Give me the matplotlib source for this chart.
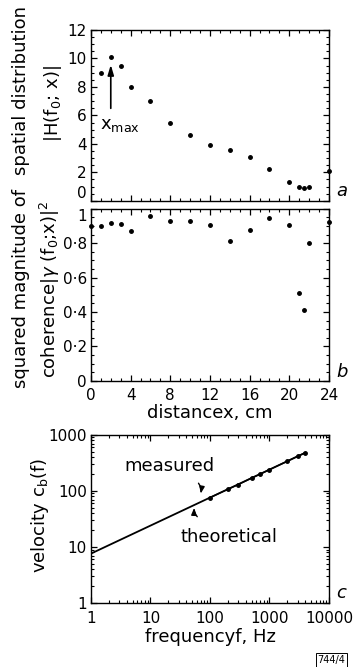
import numpy as np
import matplotlib
matplotlib.use("Agg")
import matplotlib.pyplot as plt
from matplotlib.ticker import MultipleLocator, FixedLocator, FuncFormatter, LogLocator, NullFormatter

# panel a: spatial distribution |H(f0;x)|
dist_a = [1, 2, 3, 4, 6, 8, 10, 12, 14, 16, 18, 20, 21, 21.5, 22, 24]
mag_a = [9.0, 10.1, 9.5, 8.0, 7.0, 5.5, 4.6, 3.9, 3.6, 3.05, 2.25, 1.3, 0.98, 0.9, 1.0, 2.1]

# panel b: squared magnitude of coherence
dist_b = [0, 1, 2, 3, 4, 6, 8, 10, 12, 14, 16, 18, 20, 21, 21.5, 22, 24]
coh_b = [0.90, 0.90, 0.92, 0.91, 0.87, 0.96, 0.93, 0.93, 0.905, 0.81, 0.875, 0.945,
         0.905, 0.51, 0.41, 0.80, 0.925]

# panel c: bending wave velocity
freq_meas = [100, 200, 300, 500, 700, 1000, 2000, 3000, 4000]
vel_meas = [76, 107, 130, 170, 200, 240, 340, 420, 480]
freq_theory = [1, 4000]
vel_theory = [7.6, 480]

TICK = 11
LABEL = 13
plt.rcParams["font.family"] = ["DejaVu Sans"]
plt.rcParams["mathtext.fontset"] = "dejavusans"

fig = plt.figure(figsize=(3.58, 6.67), dpi=100)
ax_a = fig.add_axes([0.254, 0.699, 0.665, 0.256])
ax_b = fig.add_axes([0.254, 0.429, 0.665, 0.258])
ax_c = fig.add_axes([0.254, 0.096, 0.665, 0.252])


def style(ax):
    for s in ax.spines.values():
        s.set_linewidth(1.0)
    ax.tick_params(which="both", direction="in", top=True, right=True, labelsize=TICK, pad=3)
    ax.tick_params(which="major", length=4, width=0.9)
    ax.tick_params(which="minor", length=2, width=0.8)


dot = lambda v, pos: ("%g" % v).replace(".", "\u00b7")

# --- a ---
ax_a.plot(dist_a, mag_a, "o", color="black", markersize=2.5, clip_on=False)
ax_a.set_xlim(0, 24)
ax_a.set_ylim(0, 12)
ax_a.xaxis.set_major_locator(MultipleLocator(4))
ax_a.xaxis.set_minor_locator(MultipleLocator(1))
ax_a.yaxis.set_major_locator(MultipleLocator(2))
ax_a.yaxis.set_minor_locator(MultipleLocator(0.5))
ax_a.set_xticklabels([])
style(ax_a)
ax_a.annotate("", xy=(2, 9.75), xytext=(2, 6.3),
              arrowprops=dict(arrowstyle="-|>,head_length=0.6,head_width=0.18", color="black", lw=1.2))
ax_a.text(0.9, 5.3, r"x$_{\mathrm{max}}$", fontsize=LABEL, va="center", ha="left")
ax_a.text(1.03, 0.06, "a", transform=ax_a.transAxes, fontsize=LABEL, style="italic", va="center")

# --- b ---
ax_b.plot(dist_b, coh_b, "o", color="black", markersize=2.5, clip_on=False)
ax_b.set_xlim(0, 24)
ax_b.set_ylim(0, 1)
ax_b.xaxis.set_major_locator(MultipleLocator(4))
ax_b.xaxis.set_minor_locator(MultipleLocator(1))
ax_b.yaxis.set_major_locator(MultipleLocator(0.2))
ax_b.yaxis.set_minor_locator(MultipleLocator(0.05))
ax_b.yaxis.set_major_formatter(FuncFormatter(dot))
style(ax_b)
ax_b.tick_params(axis="x", pad=5)
ax_b.set_xlabel("distancex, cm", fontsize=LABEL, labelpad=1)
ax_b.text(1.03, 0.05, "b", transform=ax_b.transAxes, fontsize=LABEL, style="italic", va="center")

# keep the "0" of a and the "1" of b apart, as in the original
fig.canvas.draw()
for t in ax_a.yaxis.get_major_ticks():
    if abs(t.get_loc()) < 1e-9:
        t.label1.set_va("bottom")
for t in ax_b.yaxis.get_major_ticks():
    if abs(t.get_loc() - 1) < 1e-9:
        t.label1.set_va("top")

# --- c ---
ax_c.loglog(freq_theory, vel_theory, "-", color="black", lw=1.3)
ax_c.plot(freq_meas, vel_meas, "-o", color="black", lw=1.0, markersize=2.5)
ax_c.set_xlim(1, 10000)
ax_c.set_ylim(1, 1000)
ax_c.xaxis.set_major_locator(FixedLocator([1, 10, 100, 1000, 10000]))
ax_c.yaxis.set_major_locator(FixedLocator([1, 10, 100, 1000]))
ax_c.xaxis.set_minor_locator(LogLocator(base=10, subs=np.arange(2, 10)))
ax_c.yaxis.set_minor_locator(LogLocator(base=10, subs=np.arange(2, 10)))
ax_c.xaxis.set_minor_formatter(NullFormatter())
ax_c.yaxis.set_minor_formatter(NullFormatter())
ax_c.xaxis.set_major_formatter(FuncFormatter(lambda v, p: "%d" % v))
ax_c.yaxis.set_major_formatter(FuncFormatter(lambda v, p: "%d" % v))
style(ax_c)
ax_c.tick_params(axis="x", pad=6)
ax_c.set_xlabel("frequencyf, Hz", fontsize=LABEL, labelpad=1)
ax_c.text(21, 280, "measured", fontsize=LABEL, ha="center", va="center")
ax_c.text(210, 15, "theoretical", fontsize=LABEL, ha="center", va="center")
ax_c.annotate("", xy=(68, 80), xytext=(60, 150),
              arrowprops=dict(arrowstyle="-|>,head_length=0.4,head_width=0.15", color="black", lw=1.0,
                              connectionstyle="arc3,rad=-0.3"))
ax_c.annotate("", xy=(55, 56), xytext=(66, 32),
              arrowprops=dict(arrowstyle="-|>,head_length=0.4,head_width=0.15", color="black", lw=1.0,
                              connectionstyle="arc3,rad=-0.3"))
ax_c.text(1.03, 0.06, "c", transform=ax_c.transAxes, fontsize=LABEL, style="italic", va="center")

# stacked y labels
fig.text(0.060, 0.865, "spatial distribution", rotation=90, fontsize=LABEL, ha="center", va="center")
fig.text(0.148, 0.844, "|H(f$_0$; x)|", rotation=90, fontsize=LABEL, ha="center", va="center")
fig.text(0.060, 0.567, "squared magnitude of", rotation=90, fontsize=LABEL, ha="center", va="center")
fig.text(0.140, 0.567, r"coherence|$\gamma$ (f$_0$;x)|$^2$", rotation=90, fontsize=LABEL,
         ha="center", va="center")
fig.text(0.112, 0.228, r"velocity c$_\mathrm{b}$(f)", rotation=90, fontsize=LABEL,
         ha="center", va="center")

fig.text(0.926, 0.003, "744/4", fontsize=7, ha="center", va="bottom",
         bbox=dict(boxstyle="square,pad=0.2", fc="white", ec="black", lw=0.7))

fig.savefig("out.png", dpi=100)
